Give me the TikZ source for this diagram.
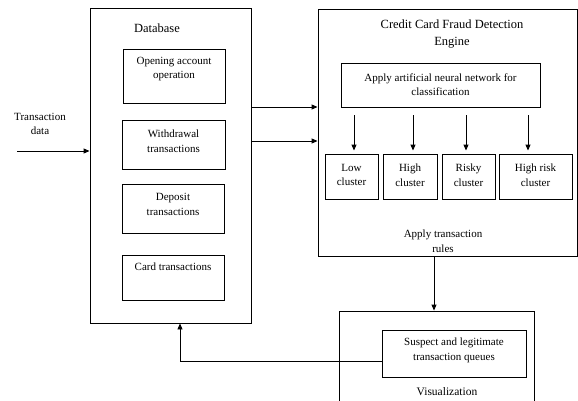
\documentclass[tikz,border=0pt]{standalone}
\usepackage{fontspec}
\setmainfont{Liberation Serif}
\usetikzlibrary{arrows.meta}
\tikzset{
  box/.style={draw, rectangle, inner sep=0pt, line width=0.9pt},
  txt/.style={align=center, inner sep=0pt, font=\fontsize{11}{14.5}\selectfont},
  ttl/.style={align=center, inner sep=0pt, font=\fontsize{12.5}{17}\selectfont},
  arr/.style={line width=0.9pt, -{Triangle[length=6pt,width=5pt]}},
  ln/.style={line width=0.9pt}
}
\begin{document}
\begin{tikzpicture}[x=1pt,y=-1pt]
\useasboundingbox (0,0) rectangle (578,400);
\clip (0,0) rectangle (578,400);
% Database
\node[box, minimum width=161pt, minimum height=315pt] (db) at (170.5,165.5) {};
\node[ttl] (dbt) at (157,28) {Database};
\node[box, minimum width=102pt, minimum height=54pt] (open) at (174,76) {};
\node[txt] (opent) at (174,69) {Opening account\\operation};
\node[box, minimum width=103pt, minimum height=49pt] (wd) at (173.5,144.5) {};
\node[txt] (wdt) at (173.5,141) {Withdrawal\\transactions};
\node[box, minimum width=102pt, minimum height=49pt] (dep) at (173,208.5) {};
\node[txt] (dept) at (173,204.5) {Deposit\\transactions};
\node[box, minimum width=102pt, minimum height=45pt] (card) at (173,277.5) {};
\node[txt] (cardt) at (173,267) {Card transactions};
% input
\node[txt] (tdata) at (40,124) {Transaction\\data};
\coordinate (in) at (17,151);
\draw[arr] (in) -- (in -| db.west);
% Engine
\node[box, minimum width=259pt, minimum height=247pt] (eng) at (447.5,132.5) {};
\node[ttl] (engt) at (452,34.5) {Credit Card Fraud Detection\\Engine};
\node[box, minimum width=199pt, minimum height=44pt] (ann) at (440.5,85) {};
\node[txt] (annt) at (440.5,84.5) {Apply artificial neural network for\\classification};
\node[box, minimum width=53pt, minimum height=45pt] (low) at (351.5,176.5) {};
\node[txt] (lowt) at (351.5,175) {Low\\cluster};
\node[box, minimum width=54pt, minimum height=45pt] (high) at (410,176.5) {};
\node[txt] (hight) at (410,175) {High\\cluster};
\node[box, minimum width=53pt, minimum height=45pt] (risky) at (468.5,176.5) {};
\node[txt] (riskyt) at (468.5,175) {Risky\\cluster};
\node[box, minimum width=73pt, minimum height=45pt] (hrisk) at (535.5,176.5) {};
\node[txt] (hriskt) at (535.5,175) {High risk\\cluster};
\node[txt] (rules) at (443,241) {Apply transaction\\rules};
\draw[arr, shorten <=8pt, shorten >=3pt] ([xshift=2.5pt]ann.south -| low.north) -- ([xshift=2.5pt]low.north);
\draw[arr, shorten <=8pt, shorten >=3pt] ([xshift=3pt]ann.south -| high.north) -- ([xshift=3pt]high.north);
\draw[arr, shorten <=8pt, shorten >=3pt] ([xshift=-2.5pt]ann.south -| risky.north) -- ([xshift=-2.5pt]risky.north);
\draw[arr, shorten <=8pt, shorten >=3pt] ([xshift=-7.5pt]ann.south -| hrisk.north) -- ([xshift=-7.5pt]hrisk.north);
% db -> engine
\coordinate (e1) at (251,107);
\coordinate (e2) at (251,141);
\draw[arr] (e1) -- (e1 -| eng.west);
\draw[arr] (e2) -- (e2 -| eng.west);
% Visualization
\node[box, minimum width=195pt, minimum height=99pt] (vis) at (436.5,360.5) {};
\node[box, minimum width=144pt, minimum height=47pt] (sus) at (454,353.5) {};
\node[txt] (sust) at (454,350.5) {Suspect and legitimate\\transaction queues};
\node[ttl, font=\fontsize{11.5}{14}\selectfont] (vist) at (447,391.5) {Visualization};
\coordinate (ev) at (434,256);
\draw[arr] (ev) -- (ev |- vis.north);
% feedback
\coordinate (fb) at (180,361);
\draw[arr] (fb -| sus.west) -- (fb) -- (fb |- db.south);
\end{tikzpicture}
\end{document}
